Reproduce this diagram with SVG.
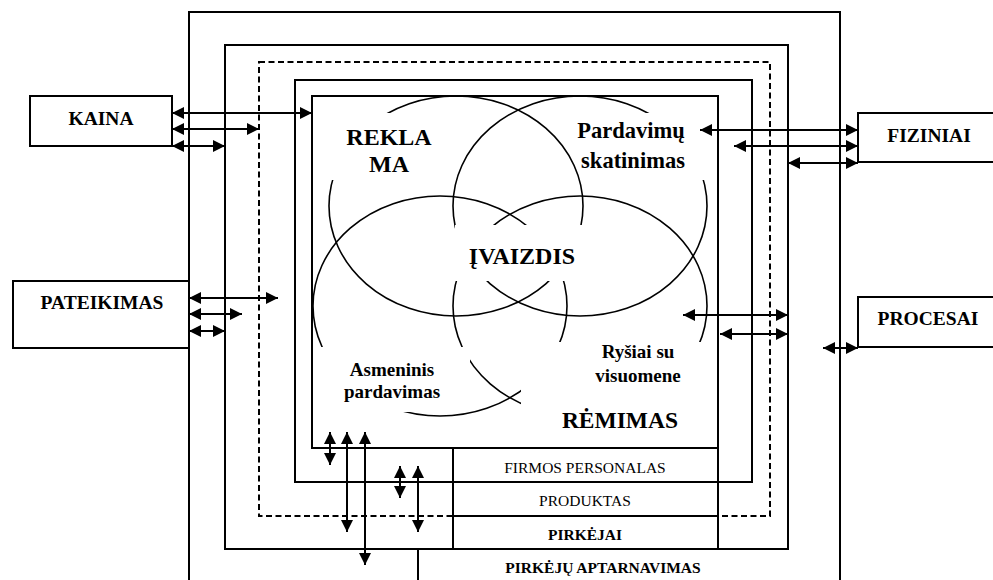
<svg xmlns="http://www.w3.org/2000/svg" width="993" height="580" viewBox="0 0 993 580">
  <style>
    .frame { fill: none; stroke: #000; stroke-width: 2; }
    .dash { fill: none; stroke: #000; stroke-width: 2; stroke-dasharray: 6 3.5; }
    .box { fill: #fff; stroke: #000; stroke-width: 2; }
    .ring { fill: none; stroke: #000; stroke-width: 1.6; }
    .knock { fill: #fff; stroke: none; }
    .arrow { stroke: #000; stroke-width: 2; fill: none; marker-start: url(#head); marker-end: url(#head); }
    text { font-family: "Liberation Serif", "Times New Roman", serif; fill: #000; text-anchor: middle; }
    .b { font-weight: bold; }
    .big { font-size: 24px; font-weight: bold; }
    .mid { font-size: 19px; font-weight: bold; }
    .lbl { font-size: 19.5px; font-weight: bold; }
    .row { font-size: 15.5px; }
  </style>
  <defs>
    <marker id="head" viewBox="0 0 12 12" refX="12" refY="6" markerWidth="12" markerHeight="12" markerUnits="userSpaceOnUse" orient="auto-start-reverse">
      <path d="M0,0 L12,6 L0,12 z" fill="#000"/>
    </marker>
  </defs>

  <rect width="993" height="580" fill="#fff"/>

  <!-- nested frames -->
  <g id="frames">
    <path class="frame" d="M189,580 V12 H840 V580"/>
    <rect class="frame" x="225" y="45" width="563" height="504"/>
    <rect class="dash" x="259" y="62" width="511" height="454"/>
    <rect class="frame" x="295" y="80" width="457" height="402"/>
    <rect class="frame" x="312" y="96" width="406" height="352"/>
  </g>

  <!-- table rows under the inner frame -->
  <g id="rows">
    <path class="frame" d="M453,448 V549 M718,448 V549 M453,516 H718 M418,549 V580" stroke-width="1.8"/>
    <text class="row" x="585" y="473">FIRMOS PERSONALAS</text>
    <text class="row" x="585" y="506">PRODUKTAS</text>
    <text class="row b" x="585" y="540">PIRKĖJAI</text>
    <text class="row b" x="603" y="573">PIRKĖJŲ APTARNAVIMAS</text>
  </g>

  <!-- overlapping promotion circles -->
  <g id="circles">
    <ellipse class="ring" cx="456" cy="206" rx="127" ry="110"/>
    <ellipse class="ring" cx="580" cy="206" rx="127" ry="110"/>
    <ellipse class="ring" cx="440" cy="306" rx="127" ry="110"/>
    <ellipse class="ring" cx="580" cy="306" rx="127" ry="110"/>
  </g>

  <g id="reklama">
    <rect class="knock" x="320" y="113" width="125" height="67"/>
    <text class="big" x="389" y="145">REKLA</text>
    <text class="big" x="389" y="172">MA</text>
  </g>

  <g id="pardavimu-skatinimas">
    <rect class="knock" x="580" y="113" width="135" height="67"/>
    <text font-size="22.5" class="b" x="631" y="138">Pardavimų</text>
    <text font-size="22.5" class="b" x="633" y="168">skatinimas</text>
  </g>

  <g id="ivaizdis">
    <rect class="knock" x="455" y="225" width="135" height="56"/>
    <text class="big" x="522" y="264">ĮVAIZDIS</text>
  </g>

  <g id="asmeninis-pardavimas">
    <rect class="knock" x="318" y="347" width="152" height="65"/>
    <text class="mid" x="392" y="376">Asmeninis</text>
    <text class="mid" x="392" y="398">pardavimas</text>
  </g>

  <g id="rysiai-su-visuomene">
    <rect class="knock" x="521" y="342" width="194" height="102"/>
    <text class="mid" x="638" y="358">Ryšiai su</text>
    <text class="mid" x="638" y="382">visuomene</text>
  </g>

  <g id="remimas">
    <text font-size="23.5" class="b" x="620" y="428">RĖMIMAS</text>
  </g>

  <!-- outside boxes -->
  <g id="kaina">
    <rect class="box" x="30" y="96" width="142" height="50"/>
    <text class="lbl" x="101" y="125">KAINA</text>
  </g>
  <g id="pateikimas">
    <rect class="box" x="13" y="281" width="176" height="67"/>
    <text class="lbl" x="102" y="309">PATEIKIMAS</text>
  </g>
  <g id="fiziniai">
    <rect class="box" x="858" y="113" width="142" height="49"/>
    <text class="lbl" x="929" y="142">FIZINIAI</text>
  </g>
  <g id="procesai">
    <rect class="box" x="858" y="297" width="142" height="50"/>
    <text class="lbl" x="928" y="325">PROCESAI</text>
  </g>

  <!-- two-way links -->
  <g id="connectors">
    <line class="arrow" x1="172" y1="113" x2="312" y2="113"/>
    <line class="arrow" x1="172" y1="129" x2="259" y2="129"/>
    <line class="arrow" x1="172" y1="146" x2="225" y2="146"/>

    <line class="arrow" x1="189" y1="298" x2="278" y2="298"/>
    <line class="arrow" x1="189" y1="314" x2="242" y2="314"/>
    <line class="arrow" x1="189" y1="331" x2="225" y2="331"/>

    <line class="arrow" x1="700" y1="130" x2="858" y2="130"/>
    <line class="arrow" x1="734" y1="146" x2="858" y2="146"/>
    <line class="arrow" x1="788" y1="163" x2="858" y2="163"/>

    <line class="arrow" x1="683" y1="315" x2="788" y2="315"/>
    <line class="arrow" x1="720" y1="334" x2="788" y2="334"/>
    <line class="arrow" x1="823" y1="348" x2="858" y2="348"/>

    <line class="arrow" x1="330" y1="432" x2="330" y2="465"/>
    <line class="arrow" x1="347" y1="432" x2="347" y2="532"/>
    <line class="arrow" x1="365" y1="432" x2="365" y2="565"/>
    <line class="arrow" x1="400" y1="466" x2="400" y2="498"/>
    <line class="arrow" x1="418" y1="466" x2="418" y2="532"/>
  </g>
</svg>
